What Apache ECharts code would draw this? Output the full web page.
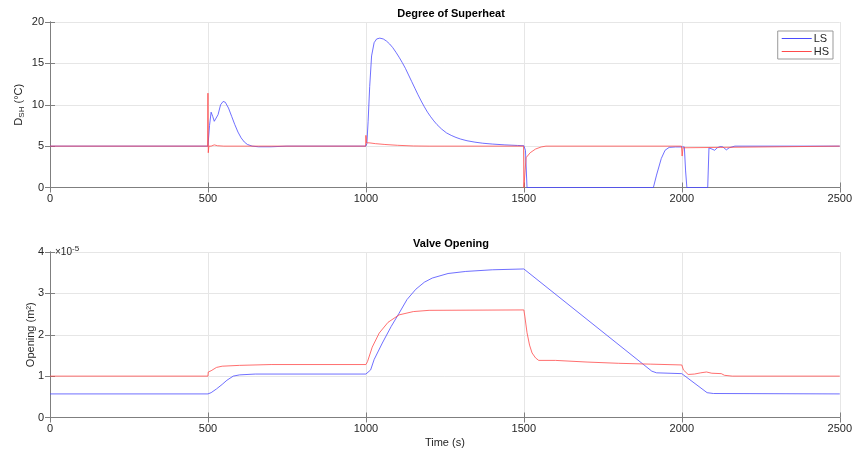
<!DOCTYPE html>
<html>
<head>
<meta charset="utf-8">
<script src="https://cdn.jsdelivr.net/npm/echarts@6/dist/echarts.min.js"></script>
<style>html,body{margin:0;padding:0;background:#fff}#c{width:855px;height:454px}</style>
</head>
<body>
<div id="c"></div>
<script>
// ---------- DATA ----------
const xTicks = [0, 500, 1000, 1500, 2000, 2500];
const shTicks = [0, 5, 10, 15, 20];
const opTicks = [0, 1, 2, 3, 4];           // x 1e-5 m^2

// Degree of superheat, LS (time s, °C)
const shLS = [[0,5],[500,5],[502,5.2],[505,7.5],[510,9.1],[515,8.6],[520,8.0],[525,7.9],[532,8.8],[540,10.0],[548,10.4],[555,10.3],[565,9.6],[575,8.6],[585,7.6],[595,6.7],[605,6.0],[615,5.5],[625,5.2],[640,5.0],[660,4.92],[700,4.92],[750,5.0],[1000,5.0],[1003,5.3],[1007,8],[1012,12.2],[1018,15.9],[1026,17.5],[1034,17.95],[1044,18.05],[1055,17.95],[1065,17.7],[1075,17.35],[1085,16.9],[1095,16.35],[1105,15.75],[1115,15.1],[1125,14.4],[1135,13.6],[1145,12.8],[1155,12.0],[1165,11.2],[1175,10.45],[1185,9.75],[1195,9.1],[1205,8.55],[1215,8.05],[1225,7.6],[1240,7.05],[1255,6.6],[1270,6.3],[1285,6.05],[1300,5.85],[1320,5.65],[1345,5.48],[1370,5.35],[1400,5.25],[1440,5.15],[1480,5.08],[1500,5.05],[1505,4.5],[1510,0],[1910,0],[1920,1.5],[1935,3.5],[1947,4.5],[1960,4.85],[1980,4.9],[2008,4.9],[2012,2],[2016,0],[2082,0],[2086,4.8],[2092,5.0],[2104,4.5],[2112,4.8],[2122,4.95],[2130,4.9],[2141,4.55],[2150,4.8],[2168,5.0],[2500,5.0]];
// Degree of superheat, HS
const shHS = [[0,5],[499,5],[500,11.4],[501,4.2],[503,5.0],[510,5.0],[520,5.15],[530,5.05],[550,5.0],[999,5.0],[1000,6.3],[1002,5.4],[1010,5.4],[1030,5.3],[1060,5.2],[1100,5.1],[1150,5.02],[1200,5.0],[1499,5.0],[1500,0],[1503,0],[1507,3.6],[1520,4.2],[1537,4.65],[1555,4.9],[1570,5.0],[1999,5.0],[2001,3.8],[2004,4.8],[2008,5.0],[2500,5.0]];
// Valve opening, LS (time s, x1e-5 m^2)
const opLS = [[0,0.57],[500,0.57],[510,0.6],[527,0.69],[545,0.8],[560,0.9],[580,1.0],[600,1.03],[650,1.05],[1000,1.05],[1006,1.05],[1015,1.15],[1026,1.4],[1052,1.8],[1080,2.2],[1105,2.52],[1130,2.85],[1158,3.1],[1185,3.27],[1210,3.37],[1260,3.48],[1316,3.53],[1400,3.57],[1500,3.59],[1905,1.12],[1920,1.08],[2000,1.06],[2080,0.6],[2100,0.58],[2500,0.57]];
// Valve opening, HS
const opHS = [[0,1.0],[500,1.0],[501,1.1],[510,1.13],[527,1.21],[545,1.24],[600,1.26],[700,1.28],[1000,1.28],[1005,1.35],[1020,1.7],[1042,2.04],[1070,2.3],[1105,2.48],[1150,2.56],[1200,2.59],[1500,2.6],[1503,2.45],[1510,2.05],[1518,1.75],[1526,1.56],[1537,1.44],[1547,1.38],[1600,1.38],[1700,1.34],[1800,1.31],[1900,1.29],[2000,1.27],[2005,1.15],[2020,1.04],[2040,1.05],[2060,1.08],[2078,1.1],[2095,1.07],[2125,1.06],[2135,1.02],[2160,1.0],[2500,1.0]];

// ---------- CHART ----------
const FONT = '"Liberation Sans", Arial, sans-serif';
const AX = '#7f7f7f', TXT = '#262626', GRIDC = '#e6e6e6';
const BLUE = '#4a4aff', RED = '#ff4a4a';
const chart = echarts.init(document.getElementById('c'), null, {renderer: 'canvas'});

function mainX(gi, showName) {
  return {
    type: 'value', gridIndex: gi, min: xTicks[0], max: xTicks[xTicks.length-1], interval: 500,
    axisLine: {show: true, lineStyle: {color: AX}},
    axisTick: {show: true, inside: true, length: 5, lineStyle: {color: AX}},
    axisLabel: {color: TXT, fontFamily: FONT, fontSize: 11, margin: 6, formatter: v => String(v)},
    splitLine: {show: true, lineStyle: {color: GRIDC}},
    name: showName ? 'Time (s)' : '', nameLocation: 'middle', nameGap: 20,
    nameTextStyle: {color: TXT, fontFamily: FONT, fontSize: 11}
  };
}
function mirrorX(gi) {
  return {
    type: 'value', gridIndex: gi, position: 'top', min: 0, max: 2500, interval: 500,
    axisLine: {show: true, lineStyle: {color: AX}},
    axisTick: {show: true, inside: true, length: 5, lineStyle: {color: AX}},
    axisLabel: {show: false}, splitLine: {show: false}
  };
}
function mainY(gi, ticks, name, rich, gap) {
  return {
    type: 'value', gridIndex: gi, min: ticks[0], max: ticks[ticks.length-1], interval: ticks[1]-ticks[0],
    axisLine: {show: true, lineStyle: {color: AX}},
    axisTick: {show: true, inside: true, length: 5, lineStyle: {color: AX}},
    axisLabel: {color: TXT, fontFamily: FONT, fontSize: 11, margin: 6},
    splitLine: {show: true, lineStyle: {color: GRIDC}},
    name: name, nameLocation: 'middle', nameGap: gap, nameRotate: 90, nameMoveOverlap: false,
    nameTextStyle: {color: TXT, fontFamily: FONT, fontSize: 11, rich: rich}
  };
}
function mirrorY(gi, ticks) {
  return {
    type: 'value', gridIndex: gi, position: 'right', min: ticks[0], max: ticks[ticks.length-1], interval: ticks[1]-ticks[0],
    axisLine: {show: true, lineStyle: {color: AX}},
    axisTick: {show: true, inside: true, length: 5, lineStyle: {color: AX}},
    axisLabel: {show: false}, splitLine: {show: false}
  };
}
function line(name, data, color, xi, yi) {
  return {
    type: 'line', name: name, data: data, xAxisIndex: xi, yAxisIndex: yi,
    showSymbol: false, symbol: 'none', smooth: false, animation: false,
    lineStyle: {color: color, width: 0.8}, itemStyle: {color: color}
  };
}

const option = {
  animation: false,
  backgroundColor: '#ffffff',
  title: [
    {text: 'Degree of Superheat', left: 446, top: 3, textAlign: 'center',
     textStyle: {fontFamily: FONT, fontSize: 11, fontWeight: 'bold', color: '#000'}},
    {text: 'Valve Opening', left: 446, top: 233, textAlign: 'center',
     textStyle: {fontFamily: FONT, fontSize: 11, fontWeight: 'bold', color: '#000'}},
    {text: '×10{sup|-5}', left: 50, top: 240,
     textStyle: {fontFamily: FONT, fontSize: 10, fontWeight: 'normal', color: TXT,
       rich: {sup: {fontFamily: FONT, fontSize: 8, color: TXT, verticalAlign: 'top', padding: [0,0,6,0]}}}}
  ],
  legend: {
    right: 22, top: 31, orient: 'vertical', icon: 'rect', itemWidth: 30, itemHeight: 1,
    itemGap: 2, padding: [2, 4, 2, 4], borderColor: '#999', borderWidth: 1, backgroundColor: '#fff',
    textStyle: {fontFamily: FONT, fontSize: 11, color: TXT, padding: [0,0,0,-3]},
    data: ['LS', 'HS']
  },
  grid: [
    {left: 50, top: 22, width: 792, height: 165.5, containLabel: false},
    {left: 50, top: 252, width: 792, height: 165.5, containLabel: false}
  ],
  xAxis: [mainX(0, false), mainX(1, true), mirrorX(0), mirrorX(1)],
  yAxis: [
    mainY(0, shTicks, '{n|D}{s|SH} (°C)', {
      n: {fontFamily: FONT, fontSize: 11, color: TXT},
      s: {fontFamily: FONT, fontSize: 8, color: TXT, verticalAlign: 'bottom', padding: [6,0,0,0]}
    }, 24),
    mainY(1, opTicks, 'Opening (m²)', {}, 14),
    mirrorY(0, shTicks), mirrorY(1, opTicks)
  ],
  series: [
    line('LS', shLS, BLUE, 0, 0),
    line('HS', shHS, RED, 0, 0),
    line('LS', opLS, BLUE, 1, 1),
    line('HS', opHS, RED, 1, 1)
  ]
};
chart.setOption(option);
</script>
</body>
</html>
